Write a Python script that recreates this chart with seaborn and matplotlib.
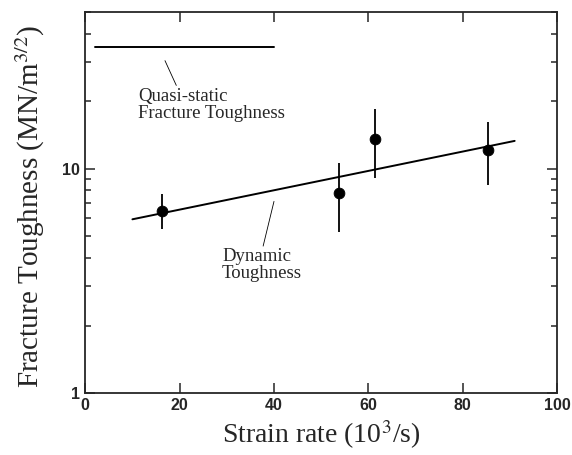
import numpy as np
import pandas as pd
import matplotlib
matplotlib.use("Agg")
import matplotlib.pyplot as plt
import seaborn as sns
from matplotlib.ticker import LogLocator, FixedLocator, NullFormatter

# Data
strain_rate = [16.3, 53.8, 61.4, 85.4]
toughness = [6.5, 7.8, 13.6, 12.1]
err_low = [5.4, 5.2, 9.1, 8.5]
err_high = [7.7, 10.6, 18.4, 16.1]

dynamic_x = [10, 91]
dynamic_y = [5.95, 13.3]

quasi_x = [2, 40]
quasi_y = [35, 35]

sns.set_style("ticks")
plt.rcParams["mathtext.fontset"] = "stix"
serif = ["Liberation Serif", "DejaVu Serif"]
sans = ["Liberation Sans", "DejaVu Sans"]

fig = plt.figure(figsize=(5.72, 4.55), dpi=100)
ax = fig.add_axes([0.149, 0.136, 0.825, 0.838])

pts = pd.DataFrame({"rate": strain_rate, "K": toughness})
ax.vlines(strain_rate, err_low, err_high, color="black", linewidth=1.3)
sns.scatterplot(data=pts, x="rate", y="K", ax=ax, color="black", s=60,
                edgecolor="black", zorder=3)

sns.lineplot(x=dynamic_x, y=dynamic_y, ax=ax, color="black", linewidth=1.4)
sns.lineplot(x=quasi_x, y=quasi_y, ax=ax, color="black", linewidth=1.4)

ax.set_yscale("log")
ax.set_xlim(0, 100)
ax.set_ylim(1, 50)

ax.xaxis.set_major_locator(FixedLocator([0, 20, 40, 60, 80, 100]))
ax.yaxis.set_major_locator(FixedLocator([1, 10]))
ax.yaxis.set_minor_locator(LogLocator(base=10, subs=np.arange(2, 10)))
ax.yaxis.set_minor_formatter(NullFormatter())
ax.set_yticklabels(["1", "10"])

ax.tick_params(which="both", direction="in", top=True, right=True,
               labelsize=11.5, width=1.1)
ax.tick_params(which="major", length=7)
ax.tick_params(which="minor", length=4)
for lab in ax.get_xticklabels() + ax.get_yticklabels():
    lab.set_fontfamily(sans)
    lab.set_fontweight("bold")
for sp in ax.spines.values():
    sp.set_linewidth(1.3)

ax.set_xlabel("Strain rate (10$^3$/s)", fontsize=20, family=serif, labelpad=4)
ax.set_ylabel("Fracture Toughness (MN/m$^{3/2}$)", fontsize=21, family=serif)
ax.yaxis.set_label_coords(-0.082, 0.49)

# annotations with leader lines
ax.plot([16.9, 19.3], [30.3, 23.5], color="black", linewidth=0.6)
ax.text(11.2, 23.0, "Quasi-static\nFracture Toughness", fontsize=13.5,
        family=serif, va="top", ha="left", linespacing=1.05)
ax.plot([40, 37.7], [7.15, 4.52], color="black", linewidth=0.6)
ax.text(29, 4.45, "Dynamic\nToughness", fontsize=13.5,
        family=serif, va="top", ha="left", linespacing=1.05)

fig.savefig("out.png", dpi=100)
